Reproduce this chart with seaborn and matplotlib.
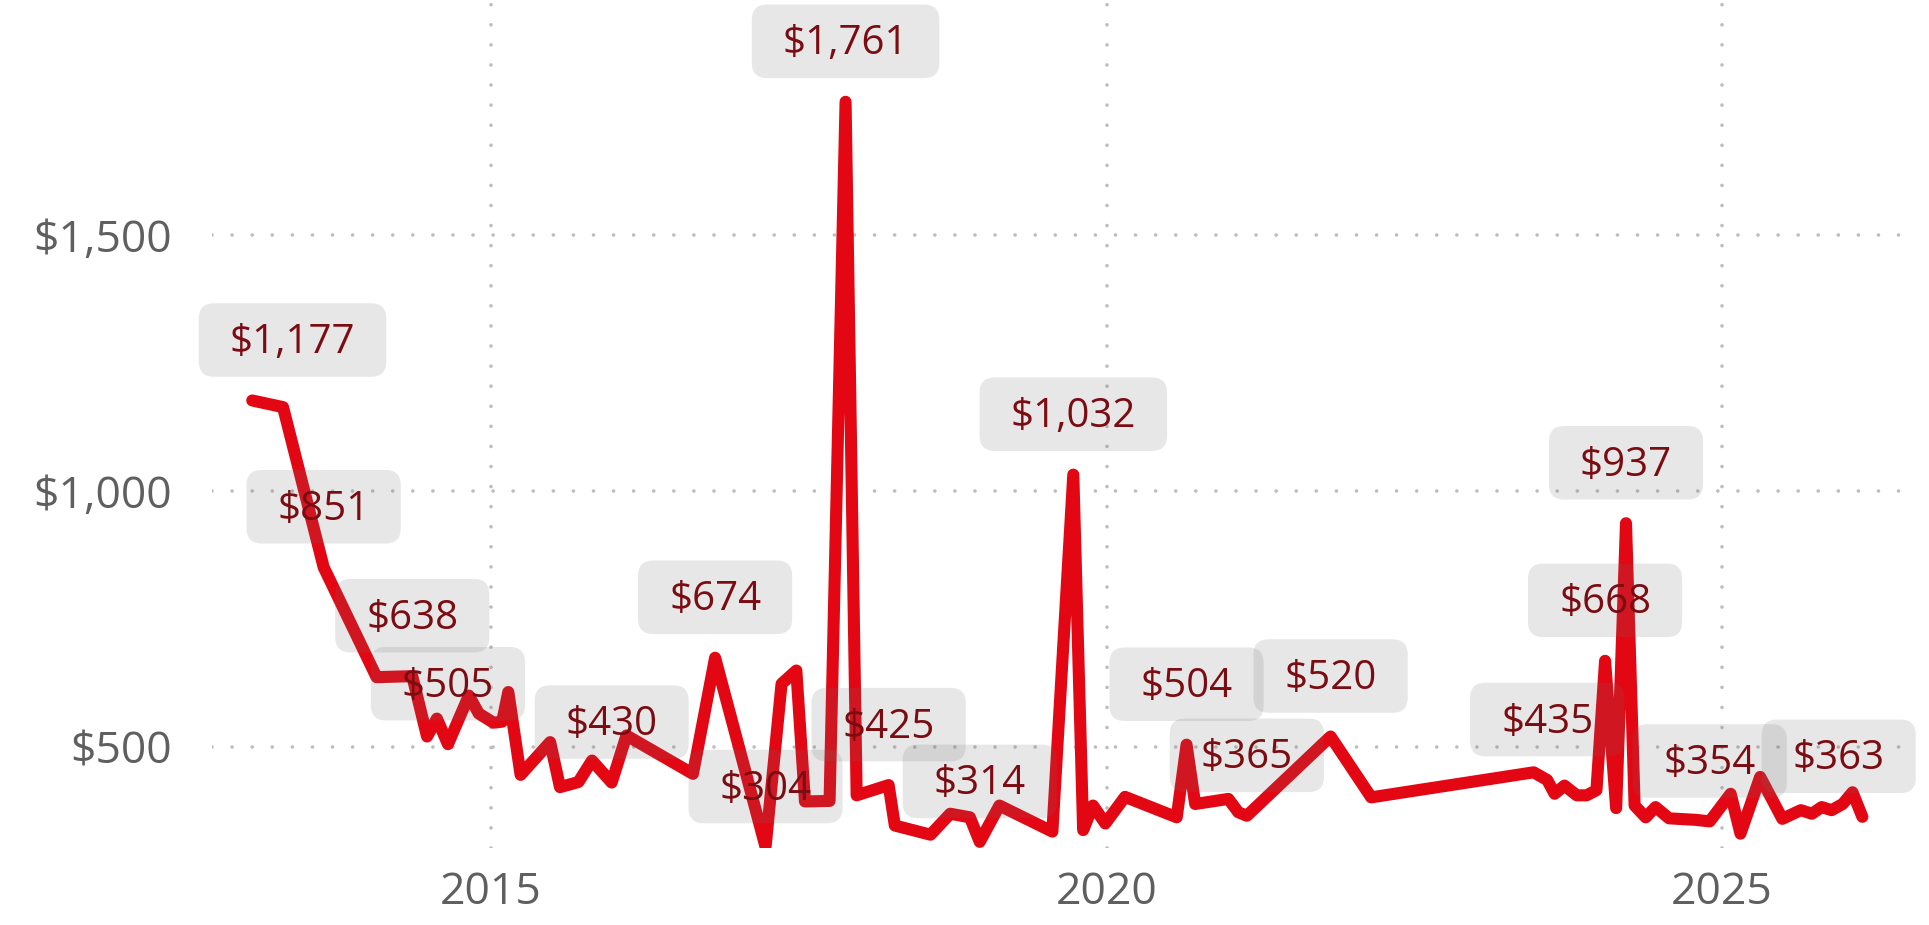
import matplotlib
matplotlib.use("Agg")
import matplotlib.pyplot as plt
import pandas as pd
import seaborn as sns
from matplotlib.patches import BoxStyle
from matplotlib.ticker import FuncFormatter

# Average price by observation date (fractional years)
year = [
    2013.06, 2013.31, 2013.64, 2014.07, 2014.36, 2014.48, 2014.56, 2014.65,
    2014.82, 2014.90, 2015.02, 2015.09, 2015.14, 2015.24, 2015.48, 2015.56,
    2015.71, 2015.82, 2015.98, 2016.10, 2016.64, 2016.82, 2017.23, 2017.36,
    2017.48, 2017.55, 2017.75, 2017.88, 2017.97, 2018.23, 2018.28, 2018.57,
    2018.73, 2018.89, 2018.97, 2019.13, 2019.56, 2019.73, 2019.81, 2019.89,
    2019.99, 2020.15, 2020.57, 2020.65, 2020.72, 2020.99, 2021.07, 2021.14,
    2021.82, 2022.15, 2023.47, 2023.58, 2023.64, 2023.72, 2023.82, 2023.90,
    2023.98, 2024.05, 2024.14, 2024.22, 2024.29, 2024.38, 2024.46, 2024.57,
    2024.79, 2024.90, 2025.07, 2025.15, 2025.31, 2025.49, 2025.64, 2025.73,
    2025.81, 2025.89, 2025.98, 2026.06, 2026.14,
]
price = [
    1177, 1164, 851, 636, 638, 520, 555, 505,
    600, 565, 547, 549, 607, 445, 509, 421,
    431, 473, 430, 522, 447, 674, 304, 623,
    649, 393, 394, 1761, 405, 425, 346, 328,
    369, 362, 314, 385, 334, 1032, 337, 385,
    350, 402, 362, 504, 388, 398, 372, 365,
    520, 401, 450, 435, 408, 424, 405, 405,
    415, 668, 380, 937, 385, 362, 382, 360,
    357, 354, 408, 330, 441, 359, 376, 369,
    382, 376, 388, 411, 363,
]
# Points that carry a value tag
tagged = [0, 2, 4, 7, 18, 21, 22, 27, 29, 34, 37, 43, 47, 48, 51, 57, 59, 65, 76]

x_ticks = [2015, 2020, 2025]
y_ticks = [500, 1000, 1500]

LINE_RED = "#e30613"
TAG_TEXT = "#7b0c12"
TICK_GREY = "#5f5f5f"
GRID_GREY = "#bdbdbd"


class PaddedRound:
    """Rounded box with separate horizontal / vertical padding (in font-size units)."""

    def __init__(self, padx, pady, rounding, lift=0.0):
        self.padx = padx
        self.pady = pady
        self.shape = BoxStyle.Round(pad=0, rounding_size=rounding)
        self.lift = lift

    def __call__(self, x0, y0, width, height, mutation_size):
        px = self.padx * mutation_size
        py = self.pady * mutation_size
        return self.shape(x0 - px, y0 - py + self.lift * mutation_size,
                          width + 2 * px, height + 2 * py, mutation_size)


sns.set_theme(style="white")
plt.rcParams["font.family"] = ["Open Sans", "DejaVu Sans"]

W, H = 1929, 925
fig = plt.figure(figsize=(W / 100, H / 100), dpi=100)
ax = fig.add_axes([212 / W, 1 - 848 / H, (1901 - 212) / W, 848 / H])

df = pd.DataFrame({"year": year, "price": price})
sns.lineplot(data=df, x="year", y="price", ax=ax, color=LINE_RED,
             linewidth=8.7, solid_joinstyle="round", solid_capstyle="round",
             zorder=3)

ax.set_xlim(2012.733, 2026.454)
ax.set_ylim(302, 1960)

ax.set_xticks(x_ticks)
ax.set_yticks(y_ticks)
ax.xaxis.set_major_formatter(FuncFormatter(lambda v, _: f"{v:.0f}"))
ax.yaxis.set_major_formatter(FuncFormatter(lambda v, _: f"${v:,.0f}"))
ax.tick_params(axis="both", length=0, labelsize=32, labelcolor=TICK_GREY)
ax.tick_params(axis="y", pad=29)
ax.tick_params(axis="x", pad=16)
ax.set_xlabel("")
ax.set_ylabel("")

# dotted grid: round dots about 20 px apart
ax.grid(True, which="major", axis="both", color=GRID_GREY,
        linewidth=2.6, linestyle=(0, (0.01, 5.55)), dash_capstyle="round")
ax.set_axisbelow(True)
for side in ax.spines.values():
    side.set_visible(False)

# value tags above selected points
shift_x = {0: 29, 76: -17}
box = PaddedRound(padx=0.77, pady=0.41, rounding=0.38, lift=0.07)
for i in tagged:
    ax.annotate(f"${price[i]:,.0f}", xy=(year[i], price[i]),
                xytext=(shift_x.get(i, 0), 41.5), textcoords="offset points",
                ha="center", va="center", fontsize=29, color=TAG_TEXT,
                bbox=dict(boxstyle=box, facecolor=(0.43, 0.43, 0.43, 0.16),
                          edgecolor="none"),
                zorder=4, annotation_clip=False)

fig.savefig("out.png", dpi=100)
